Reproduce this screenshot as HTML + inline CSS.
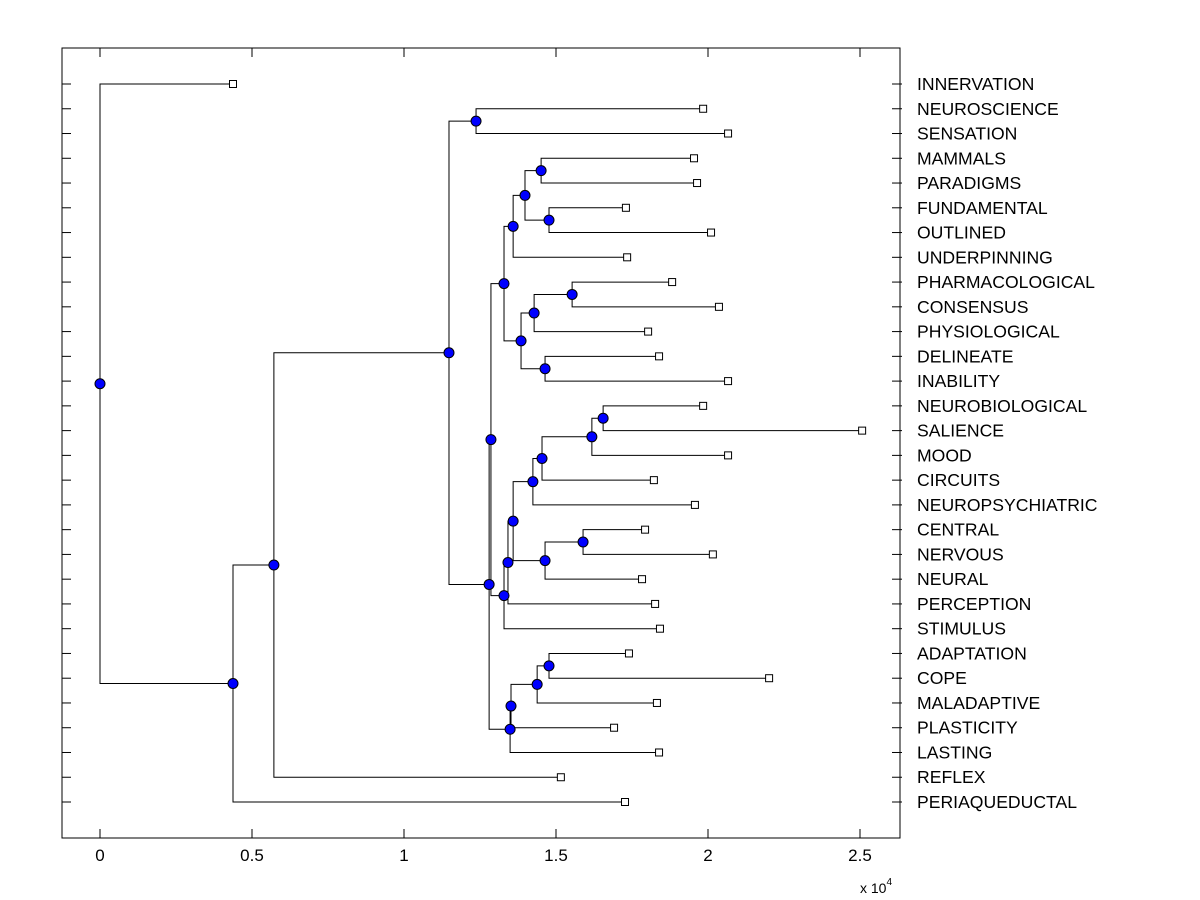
<!DOCTYPE html>
<html><head><meta charset="utf-8"><style>
body{margin:0;background:#fff;}
svg{display:block;font-family:"Liberation Sans",Arial,sans-serif;}
</style></head><body>
<svg id="chart" width="1200" height="900"></svg>
<script>
const leafNames=["INNERVATION","NEUROSCIENCE","SENSATION","MAMMALS","PARADIGMS","FUNDAMENTAL","OUTLINED","UNDERPINNING","PHARMACOLOGICAL","CONSENSUS","PHYSIOLOGICAL","DELINEATE","INABILITY","NEUROBIOLOGICAL","SALIENCE","MOOD","CIRCUITS","NEUROPSYCHIATRIC","CENTRAL","NERVOUS","NEURAL","PERCEPTION","STIMULUS","ADAPTATION","COPE","MALADAPTIVE","PLASTICITY","LASTING","REFLEX","PERIAQUEDUCTAL"];
const leafValues=[0.4375,1.984,2.066,1.954,1.964,1.730,2.01,1.734,1.882,2.036,1.803,1.839,2.066,1.984,2.507,2.066,1.822,1.957,1.793,2.016,1.783,1.826,1.842,1.740,2.201,1.832,1.691,1.839,1.516,1.727];
const mergeA=[1,3,5,31,33,8,35,11,36,34,13,40,41,42,18,44,43,46,47,39,23,50,51,52,49,30,55,56,0];
const mergeB=[2,4,6,32,7,9,10,12,37,38,14,15,16,17,19,20,45,21,22,48,24,25,26,27,53,54,28,29,57];
const mergeHeight=[1.237,1.451,1.477,1.398,1.359,1.553,1.428,1.464,1.385,1.329,1.655,1.618,1.454,1.424,1.589,1.464,1.359,1.342,1.329,1.286,1.477,1.438,1.352,1.349,1.280,1.148,0.572,0.4375,0];
const xTicks=[0,0.5,1,1.5,2,2.5];
const xTickLabels=["0","0.5","1","1.5","2","2.5"];

const svg=document.getElementById('chart');
const NS='http://www.w3.org/2000/svg';
const L=62,R=900,T=48,B=838;
const xs=v=>100+304*v;
const ys=i=>84+i*(802-84)/29;
function mk(tag,at,parent){const e=document.createElementNS(NS,tag);for(const k in at)e.setAttribute(k,at[k]);(parent||svg).appendChild(e);return e;}

const frame=mk('rect',{x:L,y:T,width:R-L,height:B-T,fill:'none',stroke:'#000','stroke-width':1});



leafNames.forEach((n,i)=>{
  const y=ys(i);
  const t1=mk('line',{x1:L,x2:L+9,y1:y,y2:y,stroke:'#000'});
  
  
  const t2=mk('line',{x1:R-8,x2:R+2,y1:y,y2:y,stroke:'#000'});
  
  
  const tx=mk('text',{x:917,y:y+6,'font-size':17.6,fill:'#000'});
  tx.textContent=n;
  
  
});
xTicks.forEach((v,i)=>{
  const x=xs(v);
  const a=mk('line',{x1:x,x2:x,y1:B,y2:B-9,stroke:'#000'});
  
  
  const b=mk('line',{x1:x,x2:x,y1:T,y2:T+9,stroke:'#000'});
  
  
  const t=mk('text',{x:x,y:861,'font-size':17,'text-anchor':'middle'});
  t.textContent=xTickLabels[i];
  
  
});
const ex=mk('text',{x:860,y:893,'font-size':14});
ex.innerHTML='x 10<tspan dy="-8" font-size="10">4</tspan>';



const nx=[],ny=[];
leafValues.forEach((v,i)=>{nx[i]=xs(v);ny[i]=ys(i);});
const N=leafValues.length;
mergeA.forEach((a,k)=>{const b=mergeB[k];const id=N+k;nx[id]=xs(mergeHeight[k]);ny[id]=(ny[a]+ny[b])/2;});
const lines=mk('g',{stroke:'#000','stroke-width':1,fill:'none'});


mergeA.forEach((a,k)=>{
  const b=mergeB[k],id=N+k,x=nx[id];
  const p=mk('path',{d:`M${nx[a]},${ny[a]}H${x}V${ny[b]}H${nx[b]}`},lines);
  
  
});
leafValues.forEach((v,i)=>{
  const s=mk('rect',{x:nx[i]-3.5,y:ny[i]-3.5,width:7,height:7,fill:'#fff',stroke:'#000'});
  
  
});
mergeA.forEach((a,k)=>{
  const id=N+k;
  const c=mk('circle',{cx:nx[id],cy:ny[id],r:5,fill:'#0000ff',stroke:'#000'});
  
  
});
</script>
</body></html>
